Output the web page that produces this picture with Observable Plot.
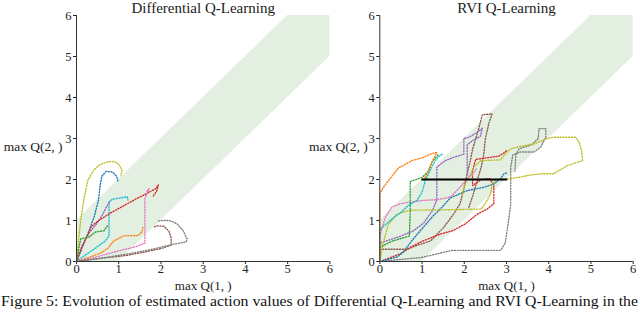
<!DOCTYPE html>
<html><head><meta charset="utf-8">
<script src="https://cdn.jsdelivr.net/npm/d3@7"></script>
<script src="https://cdn.jsdelivr.net/npm/@observablehq/plot@0.6"></script>
<style>
body{margin:0;background:#fff;}
#wrap{position:relative;width:640px;height:312px;overflow:hidden;font-family:"Liberation Serif",serif;}
#wrap svg, #wrap svg text{font-family:"Liberation Serif",serif !important;}
.panel{position:absolute;top:0;}
#cap{position:absolute;left:0;top:291px;}
</style></head>
<body><div id="wrap"><div id="left" class="panel" style="left:0"></div><div id="right" class="panel" style="left:305px"></div><svg id="cap" width="640" height="21"></svg></div>
<script>
// ---- data ----
const titles = ["Differential Q-Learning", "RVI Q-Learning"];
const xLabel = "max Q(1, )";
const yLabel = "max Q(2, )";
const caption = "Figure 5: Evolution of estimated action values of Differential Q-Learning and RVI Q-Learning in the";
const tickValues = [0, 1, 2, 3, 4, 5, 6];
// band |Q2 - Q1| <= 1
const bandX = [0, 1, 5, 6];
const bandLo = [0, 0, 4, 5];
const bandHi = [1, 2, 6, 6];

const tab = {blue:"#1f77b4", orange:"#ff7f0e", green:"#2ca02c", red:"#d62728", purple:"#9467bd", brown:"#8c564b", pink:"#e377c2", gray:"#7f7f7f", olive:"#bcbd22", cyan:"#17becf"};

// Differential Q-Learning trajectories
const dOlive = [[0,0],[0.04,0.45],[0.1,1.0],[0.18,1.55],[0.27,1.98],[0.4,2.22],[0.55,2.36],[0.72,2.43],[0.88,2.44],[1.0,2.38],[1.08,2.22],[1.05,2.1]];
const dBlue = [[0,0],[0.12,0.3],[0.28,0.7],[0.42,1.1],[0.52,1.5],[0.56,1.85],[0.6,2.08],[0.7,2.2],[0.85,2.18],[0.95,2.08],[0.98,1.97]];
const dCyan = [[0,0],[0.2,0.15],[0.45,0.33],[0.68,0.5],[0.77,0.62],[0.77,1.45],[0.85,1.52],[1.05,1.55],[1.2,1.58],[1.22,1.5]];
const dPurple = [[0,0],[0.15,0.4],[0.3,0.7],[0.5,0.95],[0.62,1.15],[0.72,1.35],[0.8,1.48]];
const dRed = [[0,0],[0.12,0.35],[0.25,0.62],[0.35,0.85],[0.5,0.98],[0.8,1.18],[1.1,1.35],[1.4,1.52],[1.65,1.65],[1.88,1.78],[1.94,1.87],[1.9,1.72],[1.82,1.6]];
const dGreen = [[0,0],[0.05,0.3],[0.1,0.55],[0.3,0.6],[0.45,0.72],[0.65,0.75],[0.73,0.87]];
const dOrange = [[0,0],[0.35,0.12],[0.6,0.22],[0.75,0.33],[0.88,0.5],[1.12,0.63],[1.45,0.63],[1.55,0.72],[1.57,0.83]];
const dPink = [[0,0],[0.5,0.12],[1.0,0.26],[1.4,0.36],[1.62,0.45],[1.62,1.0],[1.62,1.55],[1.7,1.72],[1.72,1.78],[1.65,1.7]];
const dBrown = [[0,0],[0.6,0.08],[1.2,0.15],[1.7,0.25],[2.05,0.33],[2.24,0.4],[2.24,0.58],[2.19,0.74],[2.07,0.86],[1.92,0.87],[1.83,0.84]];
const dGray = [[0,0],[0.7,0.1],[1.3,0.2],[1.8,0.3],[2.2,0.4],[2.6,0.48],[2.62,0.55],[2.52,0.76],[2.38,0.92],[2.2,1.0],[2.02,1.0],[1.91,0.98]];

// RVI Q-Learning trajectories
const rOrange = [[0,0],[0,1.65],[0.08,1.8],[0.21,1.98],[0.44,2.28],[0.76,2.46],[1.04,2.54],[1.19,2.62],[1.35,2.66],[1.28,2.52],[1.18,2.3],[1.1,2.1],[1.05,2.0]];
const rCyan = [[0,0],[0,0.78],[0.29,1.04],[0.5,1.2],[0.68,1.37],[0.88,1.49],[1.0,1.69],[1.08,1.98],[1.23,2.3],[1.31,2.46],[1.43,2.59],[1.5,2.63]];
const rGreen = [[0,0],[0,0.35],[0.3,0.5],[0.7,0.62],[0.72,1.2],[0.72,1.95],[1.0,2.05],[1.15,2.2],[1.25,2.45],[1.38,2.6]];
const rPink = [[0,0],[0,0.62],[0.13,1.08],[0.29,1.33],[0.49,1.41],[0.73,1.45],[1.04,1.49],[1.36,1.51],[1.67,1.57],[1.9,1.81],[2.07,2.02],[2.2,2.14],[2.3,2.28]];
const rOlive = [[0,0],[0.08,0.45],[0.2,0.9],[0.4,1.15],[0.7,1.25],[1.5,1.26],[2.4,1.28],[2.5,1.42],[2.62,1.64],[2.66,1.88],[2.74,2.0],[3.0,2.01],[3.33,2.06],[3.57,2.11],[3.81,2.14],[4.12,2.14],[4.44,2.34],[4.8,2.46],[4.78,2.7],[4.72,2.91],[4.64,3.03],[4.12,3.03],[3.96,3.0],[3.65,2.87],[3.3,2.8],[3.1,2.75],[2.98,2.63],[2.86,2.48],[2.39,2.46],[2.23,2.3],[2.11,2.06],[1.99,1.81],[1.95,1.62]];
const rRed = [[0,0],[0.49,0.19],[0.73,0.35],[1.04,0.51],[1.44,0.67],[1.72,0.75],[2.03,0.92],[2.3,1.15],[2.54,1.28],[2.7,1.41],[2.7,1.85],[2.6,2.02],[2.4,2.0],[2.2,1.85],[2.19,2.2],[2.27,2.49],[2.54,2.53],[2.82,2.57],[2.94,2.65],[3.0,2.7]];
const rBlue = [[0,0],[0.41,0.11],[0.56,0.23],[0.76,0.51],[1.0,0.8],[1.27,1.12],[1.47,1.32],[1.67,1.55],[2.07,1.73],[2.46,1.81],[2.7,1.89],[2.86,2.02],[2.94,2.14],[3.0,2.16]];
const rBrown = [[0,0.3],[0.65,0.3],[0.9,0.4],[1.2,0.5],[1.36,0.67],[1.52,0.84],[1.75,1.16],[1.9,1.41],[1.98,1.73],[2.05,2.05],[2.13,2.4],[2.2,2.75],[2.33,3.2],[2.43,3.58],[2.66,3.6],[2.58,3.36],[2.5,3.0],[2.46,2.6],[2.4,2.3],[2.3,1.95],[2.2,1.6],[2.1,1.3]];
const rPurple = [[0,0],[0,0.45],[0.5,0.62],[0.8,0.75],[1.05,0.95],[1.25,1.25],[1.35,1.5],[1.35,2.3],[1.55,2.46],[1.75,2.54],[1.91,2.59],[1.99,2.62],[1.99,3.0],[2.11,3.03],[2.31,3.15],[2.43,3.25],[2.38,3.05],[2.2,2.95],[2.07,2.85],[2.07,2.1]];
const rGray = [[0,0],[1.0,0.1],[1.7,0.27],[2.86,0.27],[2.97,0.45],[3.05,1.0],[3.1,1.4],[3.1,2.3],[3.15,2.6],[3.33,2.67],[3.65,2.67],[3.81,2.79],[3.93,3.03],[3.93,3.24],[3.77,3.24],[3.75,3.0],[3.6,2.85],[3.3,2.75],[3.22,2.6],[3.2,2.2]];
const rBlack = [[1,2],[3,2]];

const diffSeries = [["olive",dOlive],["blue",dBlue],["cyan",dCyan],["purple",dPurple],["red",dRed],["green",dGreen],["orange",dOrange],["pink",dPink],["brown",dBrown],["gray",dGray]];
const rviSeries = [["gray",rGray],["brown",rBrown],["purple",rPurple],["red",rRed],["blue",rBlue],["olive",rOlive],["pink",rPink],["green",rGreen],["cyan",rCyan],["orange",rOrange]];

// ---- build tables ----
const band = bandX.map((x, i) => ({x, lo: bandLo[i], hi: bandHi[i]}));
function rows(series) {
  const out = [];
  series.forEach(([c, pts], k) => pts.forEach(([x, y]) => out.push({id: k, color: tab[c], x, y})));
  return out;
}
const blackRows = rBlack.map(([x, y]) => ({x, y}));

function panel(title, series, extra, ml, ylabDx) {
  return Plot.plot({
    width: 335, height: 292,
    marginLeft: ml, marginRight: 335 - ml - 253.4, marginTop: 15, marginBottom: 31,
    style: {background: "transparent", overflow: "visible", fontFamily: "'Liberation Serif', serif", fontSize: "12.5px", color: "#222"},
    x: {domain: [0, 6], ticks: tickValues, tickFormat: d3.format("d"), tickSize: 3, tickPadding: 0, label: null},
    y: {domain: [0, 6], ticks: tickValues, tickFormat: d3.format("d"), tickSize: 3, tickPadding: 2, label: null},
    color: {type: "identity"},
    marks: [
      Plot.areaY(band, {x: "x", y1: "lo", y2: "hi", fill: "#e3efe1"}),
      Plot.line(rows(series), {x: "x", y: "y", z: "id", stroke: "color", strokeWidth: 1.35, strokeDasharray: "1.1,1.7"}),
      ...extra,
      Plot.ruleX([0], {stroke: "#333", strokeWidth: 1}),
      Plot.ruleY([0], {stroke: "#333", strokeWidth: 1}),
      Plot.text([title], {text: d => d, frameAnchor: "top", lineAnchor: "bottom", dy: -3, fontSize: 15, fill: "#222"}),
      Plot.text([yLabel], {text: d => d, frameAnchor: "left", textAnchor: "end", dx: ylabDx, dy: 8, fontSize: 13.5, fill: "#222"}),
      Plot.text([xLabel], {text: d => d, frameAnchor: "bottom", lineAnchor: "bottom", dy: 28.5, fontSize: 13, fill: "#222"})
    ]
  });
}

document.getElementById("left").appendChild(panel(titles[0], diffSeries, [], 76, -14));
document.getElementById("right").appendChild(panel(titles[1], rviSeries,
  [Plot.line(blackRows, {x: "x", y: "y", stroke: "#000", strokeWidth: 2})], 74.3, -12));

const cap = d3.select("#cap");
cap.append("text").attr("x", 1).attr("y", 15).attr("textLength", 637).attr("lengthAdjust", "spacingAndGlyphs")
  .style("font-size", "15.5px").attr("fill", "#111").text(caption);
</script>
</body></html>
